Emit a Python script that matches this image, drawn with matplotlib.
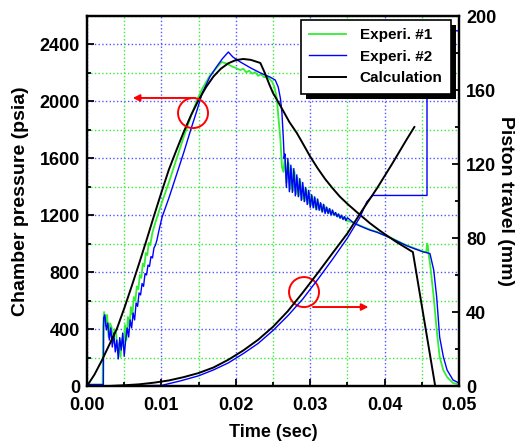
import matplotlib
matplotlib.use('Agg')
import matplotlib.pyplot as plt
from matplotlib.patches import Ellipse, Rectangle
from matplotlib.ticker import MultipleLocator

plt.rcParams['font.family'] = ['Liberation Sans', 'DejaVu Sans']
plt.rcParams['font.weight'] = 'bold'

# ---- calculation (black) ----
calc_t = [0, 0.001, 0.002, 0.003, 0.004, 0.005, 0.006, 0.007, 0.008, 0.009, 0.010,
          0.011, 0.012, 0.013, 0.014, 0.015, 0.016, 0.017, 0.018, 0.019, 0.020,
          0.021, 0.022, 0.0233, 0.0239, 0.0245, 0.025, 0.0256, 0.0263, 0.0272,
          0.0282, 0.029, 0.030, 0.031, 0.032, 0.033, 0.034, 0.035, 0.0364, 0.038,
          0.0394, 0.0415, 0.0438, 0.0468]
calc_p = [0, 80, 180, 290, 400, 545, 700, 860, 1025, 1195, 1360,
          1520, 1655, 1785, 1905, 2010, 2100, 2175, 2230, 2268, 2290,
          2298, 2292, 2270, 2200, 2120, 2059, 2005, 1940, 1855,
          1778, 1705, 1612, 1530, 1455, 1390, 1330, 1280, 1216, 1145,
          1090, 1015, 941, 0]

calc_trav_t = [0, 0.003, 0.005, 0.007, 0.009, 0.011, 0.013, 0.015, 0.017, 0.019,
               0.021, 0.023, 0.025, 0.027, 0.029, 0.031, 0.033, 0.035, 0.037,
               0.039, 0.041, 0.043, 0.044]
calc_trav = [0, 0, 0.4, 0.9, 1.8, 3.0, 4.8, 7.0, 10.0, 14.2,
             19.2, 25.0, 32.0, 40.5, 50.5, 61.0, 71.8, 82.5, 95.0,
             107.0, 120.0, 133.5, 140.0]

# ---- Experi. #2 (blue) ----
exp2_t = [0, 0.0022, 0.00225, 0.0024, 0.0026, 0.0028, 0.0030, 0.0032, 0.0034, 0.0036,
          0.0038, 0.0040, 0.0042, 0.0044, 0.0046, 0.0048, 0.0050, 0.0052, 0.0054,
          0.0056, 0.0058, 0.0060, 0.0062, 0.0064, 0.0066, 0.0068, 0.0070, 0.0072,
          0.0074, 0.0076, 0.0078, 0.0080, 0.0082, 0.0084, 0.0086, 0.0088, 0.0090,
          0.0092, 0.0094, 0.0097, 0.0101, 0.0110, 0.0120, 0.0130, 0.0140, 0.0148,
          0.0155, 0.0165, 0.0174, 0.0182, 0.0190, 0.0196, 0.0206, 0.0220, 0.0233,
          0.0246, 0.0253, 0.0257, 0.0260, 0.0262, 0.0264, 0.0265,
          0.0266, 0.0268, 0.0270, 0.0272, 0.0274, 0.0276, 0.0278, 0.0280, 0.0282,
          0.0284, 0.0286, 0.0288, 0.0290, 0.0292, 0.0294, 0.0296, 0.0298, 0.0300,
          0.0302, 0.0304, 0.0306, 0.0308, 0.0310, 0.0312, 0.0314, 0.0316, 0.0318,
          0.0320, 0.0322, 0.0324, 0.0326, 0.0328, 0.0330, 0.0332, 0.0334, 0.0336,
          0.0338, 0.0340, 0.0342, 0.0344, 0.0346, 0.0348, 0.0350,
          0.036, 0.037, 0.038, 0.039, 0.040, 0.041, 0.042, 0.043, 0.044, 0.0452,
          0.0458, 0.0461, 0.0466, 0.0470, 0.0472, 0.0474, 0.0479, 0.0484, 0.0492, 0.0500]
exp2_p = [10, 10, 480, 500, 394, 443, 323, 408, 274, 372,
          239, 323, 190, 340, 253, 372, 210, 323, 408,
          344, 464, 408, 513, 464, 583, 560, 654, 640,
          720, 700, 790, 780, 850, 840, 910, 900, 970,
          990, 1026, 1100, 1188, 1320, 1480, 1640, 1810, 1940,
          2060, 2171, 2242, 2300, 2347, 2312, 2277, 2235, 2200,
          2171, 2150, 2101, 2020, 1920, 1729, 1600,
          1630, 1395, 1600, 1365, 1552, 1360, 1528, 1336, 1484,
          1330, 1457, 1304, 1430, 1295, 1395, 1275, 1375, 1255,
          1344, 1252, 1329, 1238, 1314, 1235, 1288, 1222, 1277,
          1212, 1257, 1212, 1247, 1202, 1237, 1200, 1219, 1190,
          1209, 1180, 1200, 1171, 1190, 1162, 1182,
          1140, 1118, 1096, 1080, 1058, 1035, 1010, 985, 965, 942,
          935, 930, 815, 625, 485, 344, 204, 112, 42, 21]

exp2_trav_t = [0, 0.010, 0.0125, 0.015, 0.017, 0.019, 0.021, 0.023, 0.025, 0.027,
               0.029, 0.031, 0.033, 0.035, 0.0367, 0.0376, 0.0384, 0.0457, 0.0457, 0.050]
exp2_trav = [0, 0.3, 2.7, 5.5, 8.7, 12.5, 17.5, 23.0, 30.0, 38.0,
             47.0, 57.5, 68.5, 80.0, 91.3, 99.5, 103.0, 103.0, 192.0, 192.0]

# ---- Experi. #1 (green) ----
exp1_t = [0, 0.0021, 0.00215, 0.0023, 0.0025, 0.0027, 0.0029, 0.0031, 0.0033, 0.0035,
          0.0037, 0.0039, 0.0041, 0.0043, 0.0045, 0.0047, 0.0049, 0.0051, 0.0053,
          0.0055, 0.0057, 0.0059, 0.0061, 0.0063, 0.0065, 0.0067, 0.0069, 0.0071,
          0.0073, 0.0075, 0.0077, 0.0079, 0.0081, 0.0083, 0.0085, 0.0088, 0.0092,
          0.010, 0.011, 0.012, 0.013, 0.014, 0.0148, 0.0155, 0.0165, 0.0175, 0.0181,
          0.0188, 0.0195, 0.0200, 0.0206, 0.0210, 0.0214, 0.0218, 0.0222, 0.0226,
          0.0230, 0.0234, 0.0238, 0.0242, 0.0246, 0.0249, 0.0252, 0.0255, 0.0258,
          0.0260, 0.0262, 0.0264, 0.0266, 0.0268, 0.0270,
          0.0271, 0.0273, 0.0275, 0.0277, 0.0279, 0.0281, 0.0283, 0.0285, 0.0287,
          0.0289, 0.0291, 0.0293, 0.0295, 0.0297, 0.0299, 0.0301, 0.0303, 0.0305,
          0.0307, 0.0309, 0.0311, 0.0313, 0.0315, 0.0317, 0.0319, 0.0321, 0.0323,
          0.0325, 0.0327, 0.0329, 0.0331, 0.0333, 0.0335, 0.0337, 0.0339, 0.0341,
          0.0343, 0.0345, 0.0347, 0.0349,
          0.036, 0.037, 0.038, 0.039, 0.040, 0.041, 0.042, 0.043, 0.044, 0.0452,
          0.0456, 0.0457, 0.0458, 0.0459, 0.0461, 0.0466, 0.0470, 0.0474, 0.0479,
          0.0484, 0.0492, 0.0500]
exp1_p = [10, 10, 420, 520, 420, 500, 344, 440, 415, 302,
          400, 372, 250, 300, 204, 330, 280, 429, 323,
          485, 415, 555, 500, 625, 600, 700, 680, 780,
          760, 860, 840, 935, 920, 1005, 990, 1080, 1150,
          1280, 1430, 1590, 1750, 1900, 2010, 2090, 2180, 2240, 2277,
          2265, 2245, 2235, 2220, 2230, 2205, 2215, 2195, 2205,
          2180, 2190, 2170, 2175, 2155, 2136, 2100, 2024, 1850,
          1729, 1539, 1504, 1609, 1430, 1560,
          1567, 1383, 1528, 1372, 1504, 1348, 1463, 1338, 1436,
          1311, 1399, 1301, 1379, 1281, 1359, 1272, 1332, 1256,
          1317, 1242, 1292, 1237, 1279, 1226, 1268, 1224, 1250,
          1214, 1240, 1204, 1224, 1200, 1214, 1190, 1204, 1180,
          1195, 1170, 1186, 1162,
          1145, 1120, 1100, 1082, 1060, 1038, 1012, 988, 968, 945,
          940, 1000, 990, 930, 864, 625, 394, 204, 110,
          63, 21, 10]

x_ticks = [0.00, 0.01, 0.02, 0.03, 0.04, 0.05]
x_ticklabels = ['0.00', '0.01', '0.02', '0.03', '0.04', '0.05']
p_ticks = [0, 400, 800, 1200, 1600, 2000, 2400]
trav_ticks = [0, 40, 80, 120, 160, 200]

green = '#33ee33'
blue = '#0000ff'

fig = plt.figure(figsize=(5.21, 4.44), dpi=100)
ax = fig.add_axes([87/521, 58/444, 372/521, 370/444])
ax2 = ax.twinx()

l1, = ax.plot(exp1_t, exp1_p, color=green, lw=1.3, label='Experi. #1')
l2, = ax.plot(exp2_t, exp2_p, color=blue, lw=1.0, label='Experi. #2')
l3, = ax.plot(calc_t, calc_p, color='black', lw=1.4, label='Calculation')

ax2.plot(exp2_trav_t, exp2_trav, color=blue, lw=1.0)
ax2.plot(calc_trav_t, calc_trav, color='black', lw=1.4)

ax.set_xlim(0, 0.05)
ax.set_ylim(0, 2600)
ax2.set_ylim(0, 200)

ax.set_xticks(x_ticks)
ax.set_xticklabels(x_ticklabels)
ax.set_yticks(p_ticks)
ax2.set_yticks(trav_ticks)
ax.xaxis.set_minor_locator(MultipleLocator(0.005))
ax.yaxis.set_minor_locator(MultipleLocator(200))
ax2.yaxis.set_minor_locator(MultipleLocator(20))

ax.grid(which='major', color='#5555ff', linestyle=':', lw=1.0)
ax.grid(which='minor', color='#33ee33', linestyle=':', lw=1.0)
ax.set_axisbelow(True)

for a in (ax, ax2):
    for s in a.spines.values():
        s.set_linewidth(1.6)
    a.tick_params(which='both', direction='in', width=1.3, labelsize=13)
    a.tick_params(which='major', length=5, pad=5)
    a.tick_params(which='minor', length=3)
ax.tick_params(right=False, top=False, which='both')
ax.tick_params(axis='x', pad=8)

ax.set_xlabel('Time (sec)', fontsize=13, fontweight='bold', labelpad=7)
ax.set_ylabel('Chamber pressure (psia)', fontsize=14, fontweight='bold', labelpad=8)
ax2.set_ylabel('Piston travel (mm)', fontsize=14, fontweight='bold', rotation=270, labelpad=13)

# red markers
ax.add_patch(Ellipse((0.01425, 1918), 0.00403, 211, fill=False, ec='red', lw=1.4, zorder=6))
ax.annotate('', xy=(0.00578, 2024), xytext=(0.0149, 2024),
            arrowprops=dict(arrowstyle='-|>', color='red', lw=1.4, mutation_scale=10), zorder=6)
ax.add_patch(Ellipse((0.02917, 660), 0.00403, 211, fill=False, ec='red', lw=1.4, zorder=6))
ax.annotate('', xy=(0.0382, 555), xytext=(0.0300, 555),
            arrowprops=dict(arrowstyle='-|>', color='red', lw=1.4, mutation_scale=10), zorder=6)

leg = ax2.legend(handles=[l1, l2, l3], loc='upper right', bbox_to_anchor=(0.978, 0.989),
                 borderaxespad=0, fancybox=False, framealpha=1, edgecolor='black',
                 prop={'weight': 'bold', 'size': 11}, handlelength=2.4, handletextpad=0.9,
                 labelspacing=0.48, borderpad=0.55)
leg.get_frame().set_linewidth(1.2)
leg.set_zorder(10)

fig.canvas.draw()
bb = leg.get_window_extent()
ax2.add_artist(Rectangle((bb.x0 + 5, bb.y0 - 5), bb.width, bb.height, transform=None,
                         facecolor='black', edgecolor='none', zorder=9, clip_on=False))

fig.savefig('out.png', dpi=100)
